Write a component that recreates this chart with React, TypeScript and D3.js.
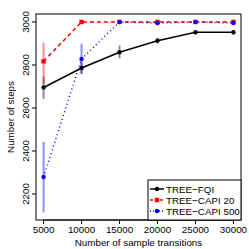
import * as d3 from "d3";

const samples = [5000, 10000, 15000, 20000, 25000, 30000];
const fqiMean = [2695, 2786, 2859, 2913, 2952, 2952];
const fqiLow = [2642, 2758, 2831, 2900, 2942, 2942];
const fqiHigh = [2746, 2809, 2890, 2926, 2962, 2962];
const capi20Mean = [2817, 3000, 3000, 3000, 3000, 3000];
const capi20Low = [2712, 3000, 3000, 2994, 3000, 2994];
const capi20High = [2904, 3000, 3000, 3000, 3000, 3000];
const capi500Mean = [2279, 2828, 3000, 2995, 3000, 2995];
const capi500Low = [2115, 2760, 3000, 2990, 3000, 2990];
const capi500High = [2443, 2899, 3000, 3000, 3000, 3000];
const xTicks = [5000, 10000, 15000, 20000, 25000, 30000];
const yTicks = [2200, 2400, 2600, 2800, 3000];
const seriesNames = ["TREE\u2212FQI", "TREE\u2212CAPI 20", "TREE\u2212CAPI 500"];

const W = 249;
const H = 249;
const box = { left: 36, right: 241, top: 14, bottom: 220 };
const FONT = "Liberation Sans, Arial, Helvetica, sans-serif";

type Series = {
  name: string;
  mean: number[];
  low: number[];
  high: number[];
  color: string;
  barColor: string;
  dash: string;
  shape: "circle" | "square";
};

const series: Series[] = [
  { name: seriesNames[0], mean: fqiMean, low: fqiLow, high: fqiHigh, color: "#000", barColor: "rgba(0,0,0,0.45)", dash: "none", shape: "circle" },
  { name: seriesNames[1], mean: capi20Mean, low: capi20Low, high: capi20High, color: "#f00", barColor: "rgba(255,0,0,0.45)", dash: "4,3", shape: "square" },
  { name: seriesNames[2], mean: capi500Mean, low: capi500Low, high: capi500High, color: "#00f", barColor: "rgba(0,0,255,0.45)", dash: "1,3", shape: "circle" },
];

export default function App() {
  const x = d3.scaleLinear().domain([4000, 31000]).range([box.left, box.right]);
  const y = d3.scaleLinear().domain([2079, 3037]).range([box.bottom, box.top]);
  const line = d3.line<number>().x((_, i) => x(samples[i])).y((d) => y(d));

  return (
    <svg width={W} height={H} style={{ position: "absolute", left: 0, top: 0 }} fontFamily={FONT}>
      <rect width={W} height={H} fill="#fff" />
      {/* error bars */}
      {series.map((s, si) => (
        <g key={"e" + si}>
          {samples.map((v, i) => (
            <line key={i} x1={x(v)} x2={x(v)} y1={y(s.low[i])} y2={y(s.high[i])} stroke={s.barColor} strokeWidth={2} />
          ))}
        </g>
      ))}
      {/* lines + points */}
      {series.map((s, si) => (
        <g key={"l" + si}>
          <path d={line(s.mean) || ""} fill="none" stroke={s.color} strokeWidth={1.5} strokeDasharray={s.dash} />
          {samples.map((v, i) =>
            s.shape === "circle" ? (
              <circle key={i} cx={x(v)} cy={y(s.mean[i])} r={2.2} fill={s.color} />
            ) : (
              <rect key={i} x={x(v) - 2.2} y={y(s.mean[i]) - 2.2} width={4.4} height={4.4} fill={s.color} />
            )
          )}
        </g>
      ))}
      {/* box */}
      <rect x={box.left} y={box.top} width={box.right - box.left} height={box.bottom - box.top} fill="none" stroke="#000" strokeWidth={1} />
      {/* x axis */}
      <g>
        <line x1={x(xTicks[0])} x2={x(xTicks[xTicks.length - 1])} y1={box.bottom} y2={box.bottom} stroke="#000" />
        {xTicks.map((t) => (
          <g key={t}>
            <line x1={x(t)} x2={x(t)} y1={box.bottom} y2={box.bottom + 4} stroke="#000" />
            <text x={x(t)} y={233} textAnchor="middle" fontSize={9.8}>{t}</text>
          </g>
        ))}
        <text x={(box.left + box.right) / 2} y={246} textAnchor="middle" fontSize={9.8}>Number of sample transitions</text>
      </g>
      {/* y axis */}
      <g>
        {yTicks.map((t) => (
          <g key={t}>
            <line x1={box.left - 4} x2={box.left} y1={y(t)} y2={y(t)} stroke="#000" />
            <text transform={`translate(28.5,${y(t)}) rotate(-90)`} textAnchor="middle" fontSize={9.8}>{t}</text>
          </g>
        ))}
        <text transform={`translate(14,${(box.top + box.bottom) / 2}) rotate(-90)`} textAnchor="middle" fontSize={9.8}>Number of steps</text>
      </g>
      {/* legend */}
      <g>
        <rect x={148} y={180} width={box.right - 148} height={box.bottom - 180} fill="#fff" stroke="#000" />
        {series.map((s, i) => {
          const ly = 189 + i * 11;
          return (
            <g key={i}>
              <line x1={150} x2={164} y1={ly} y2={ly} stroke={s.color} strokeWidth={1.5} strokeDasharray={s.dash === "none" ? "none" : s.dash === "1,3" ? "1,2" : "3,2"} />
              {s.shape === "circle" ? (
                <circle cx={157} cy={ly} r={2.2} fill={s.color} />
              ) : (
                <rect x={154.8} y={ly - 2.2} width={4.4} height={4.4} fill={s.color} />
              )}
              <text x={166} y={ly + 3.5} fontSize={9.8}>{s.name}</text>
            </g>
          );
        })}
      </g>
    </svg>
  );
}
